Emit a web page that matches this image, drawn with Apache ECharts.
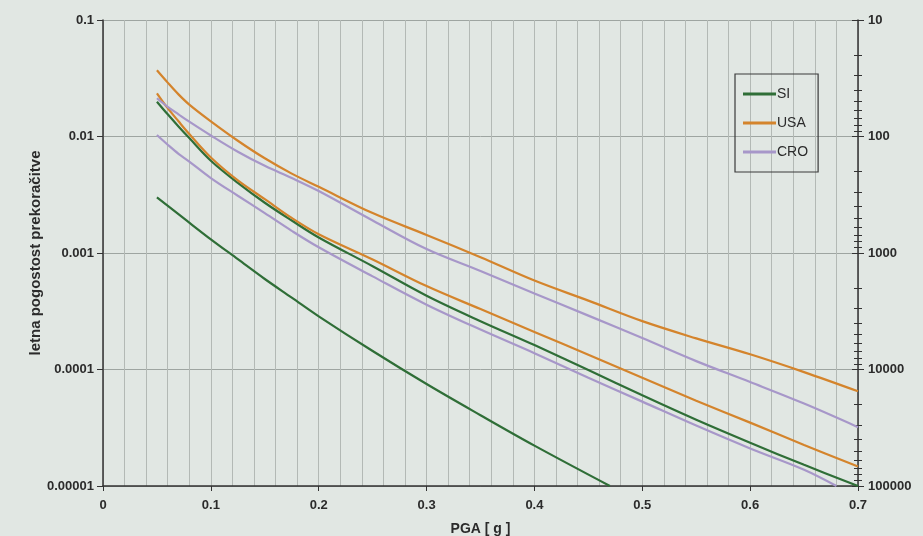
<!DOCTYPE html>
<html>
<head>
<meta charset="utf-8">
<script src="https://cdn.jsdelivr.net/npm/echarts@6/dist/echarts.min.js"></script>
<style>
html,body{margin:0;padding:0;background:#e1e7e3;}
#chart{width:923px;height:536px;}
</style>
</head>
<body>
<div id="chart"></div>
<script>
// ---- data (PGA [g], annual exceedance frequency) ----
const seriesNames = ['SI', 'USA', 'CRO'];
const siUpper = [[0.05,0.0199],[0.06,0.0155],[0.07,0.0122],[0.08,0.0097],[0.1,0.0062],[0.125,0.0040],[0.15,0.0027],[0.175,0.0019],[0.2,0.00136],[0.25,0.00077],[0.3,0.00043],[0.35,0.00026],[0.4,0.000162],[0.45,0.000099],[0.5,0.00006],[0.55,0.000037],[0.6,0.0000235],[0.65,0.0000152],[0.7,0.00001]];
const siLower = [[0.05,0.0030],[0.075,0.00198],[0.1,0.00131],[0.125,0.000885],[0.15,0.000598],[0.175,0.000414],[0.2,0.000286],[0.25,0.000144],[0.3,0.000075],[0.35,0.0000405],[0.4,0.0000222],[0.47,0.00001]];
const usaUpper = [[0.05,0.037],[0.06,0.029],[0.07,0.023],[0.08,0.0188],[0.1,0.0135],[0.125,0.0092],[0.15,0.0065],[0.175,0.0048],[0.2,0.0037],[0.25,0.0022],[0.3,0.00143],[0.35,0.00092],[0.4,0.00058],[0.45,0.00039],[0.5,0.00026],[0.55,0.000185],[0.6,0.000135],[0.65,0.000095],[0.7,0.000065]];
const usaLower = [[0.05,0.0235],[0.06,0.0175],[0.07,0.0135],[0.08,0.0105],[0.1,0.0066],[0.125,0.0042],[0.15,0.0029],[0.175,0.0020],[0.2,0.00145],[0.25,0.00088],[0.3,0.00052],[0.35,0.00033],[0.4,0.00021],[0.45,0.000134],[0.5,0.000085],[0.55,0.000054],[0.6,0.000035],[0.65,0.0000225],[0.7,0.0000147]];
const croUpper = [[0.05,0.0213],[0.06,0.0180],[0.07,0.0155],[0.08,0.0134],[0.1,0.0102],[0.125,0.0074],[0.15,0.0056],[0.175,0.0044],[0.2,0.0034],[0.25,0.0019],[0.3,0.00108],[0.35,0.00070],[0.4,0.00045],[0.45,0.00029],[0.5,0.000186],[0.55,0.000118],[0.6,0.000078],[0.65,0.000051],[0.7,0.000032]];
const croLower = [[0.05,0.0103],[0.06,0.0085],[0.07,0.0071],[0.08,0.0061],[0.1,0.0044],[0.125,0.0031],[0.15,0.0022],[0.175,0.00155],[0.2,0.00112],[0.25,0.00063],[0.3,0.00036],[0.35,0.00022],[0.4,0.000138],[0.45,0.000085],[0.5,0.000053],[0.55,0.000033],[0.6,0.000021],[0.65,0.0000138],[0.68,0.00001]];
const xTickLabels = ['0','0.1','0.2','0.3','0.4','0.5','0.6','0.7'];
const leftTickLabels = ['0.00001','0.0001','0.001','0.01','0.1'];
const rightTickLabels = ['10','100','1000','10000','100000'];

const colors = {SI:'#2f6e37', USA:'#d4842c', CRO:'#a797c9'};
const labelStyle = {color:'#2b2b2b', fontSize:13, fontWeight:'bold', fontFamily:'Liberation Sans, Arial, sans-serif'};

function logLabel(arr, base){
  return function(v){
    const i = Math.round(Math.log10(v) - base);
    return arr[i] !== undefined ? arr[i] : '';
  };
}

const chart = echarts.init(document.getElementById('chart'));
const mk = (name, data) => ({
  name: name, type:'line', data: data, xAxisIndex:0, yAxisIndex:0,
  showSymbol:false, symbol:'none', smooth:0.35,
  lineStyle:{width:2.2, color:colors[name]}, itemStyle:{color:colors[name]},
  z: 5
});

chart.setOption({
  animation:false,
  backgroundColor:'#e1e7e3',
  grid:{left:103, right:65, top:20, bottom:50, containLabel:false, outerBoundsMode:'none'},
  legend:{
    show:true,
    data:seriesNames,
    orient:'vertical',
    left:735, top:74,
    width:84,
    padding:[13,10,13,8],
    itemGap:15,
    itemWidth:33, itemHeight:3,
    icon:'rect',
    borderColor:'#3a3a3a', borderWidth:1.2, borderRadius:0,
    backgroundColor:'rgba(0,0,0,0)',
    textStyle:{color:'#2b2b2b', fontSize:14, fontFamily:'Liberation Sans, Arial, sans-serif', padding:[0,0,0,-4]}
  },
  xAxis:[{
    type:'value', min:0, max:0.7, interval:0.1,
    name:'PGA [ g ]', nameLocation:'middle', nameGap:36,
    nameTextStyle:{color:'#2b2b2b', fontSize:14, fontWeight:'bold', fontFamily:'Liberation Sans, Arial, sans-serif'},
    axisLine:{show:true, onZero:false, lineStyle:{color:'#333', width:1.5}},
    axisTick:{show:true, length:5, lineStyle:{color:'#333'}},
    axisLabel:{...labelStyle, margin:13, formatter:function(v){ const i=Math.round(v*10); return xTickLabels[i]!==undefined?xTickLabels[i]:''; }},
    splitLine:{show:true, lineStyle:{color:'#b3b9b5', width:1}},
    minorTick:{show:false, splitNumber:5},
    minorSplitLine:{show:true, lineStyle:{color:'#b3b9b5', width:1}}
  }],
  yAxis:[{
    type:'log', logBase:10, min:0.00001, max:0.1, position:'left',
    name:'letna pogostost prekoračitve', nameLocation:'middle', nameGap:60, nameRotate:90,
    nameMoveOverlap:false,
    nameTextStyle:{color:'#2b2b2b', fontSize:15, fontWeight:'bold', fontFamily:'Liberation Sans, Arial, sans-serif'},
    axisLine:{show:true, lineStyle:{color:'#333', width:1.5}},
    axisTick:{show:true, length:6, lineStyle:{color:'#333'}},
    axisLabel:{...labelStyle, margin:9, formatter:logLabel(leftTickLabels, -5)},
    splitLine:{show:true, lineStyle:{color:'#9ea5a1', width:1}},
    minorTick:{show:false}, minorSplitLine:{show:false}
  },{
    type:'log', logBase:10, min:10, max:100000, inverse:true, position:'right',
    axisLine:{show:true, lineStyle:{color:'#333', width:1.5}},
    axisTick:{show:true, length:6, lineStyle:{color:'#333'}},
    minorTick:{show:true, splitNumber:9, length:4, lineStyle:{color:'#333'}},
    axisLabel:{...labelStyle, margin:10, formatter:logLabel(rightTickLabels, 1)},
    splitLine:{show:false}
  },{
    type:'log', logBase:10, min:10, max:100000, inverse:true, position:'right',
    axisLine:{show:false},
    axisTick:{show:true, inside:true, length:6, lineStyle:{color:'#333'}},
    minorTick:{show:true, splitNumber:9, length:4, lineStyle:{color:'#333'}},
    axisLabel:{show:false},
    splitLine:{show:false}
  }],
  series:[
    mk('SI', siUpper), mk('SI', siLower),
    mk('USA', usaUpper), mk('USA', usaLower),
    mk('CRO', croUpper), mk('CRO', croLower)
  ]
});
</script>
</body>
</html>
